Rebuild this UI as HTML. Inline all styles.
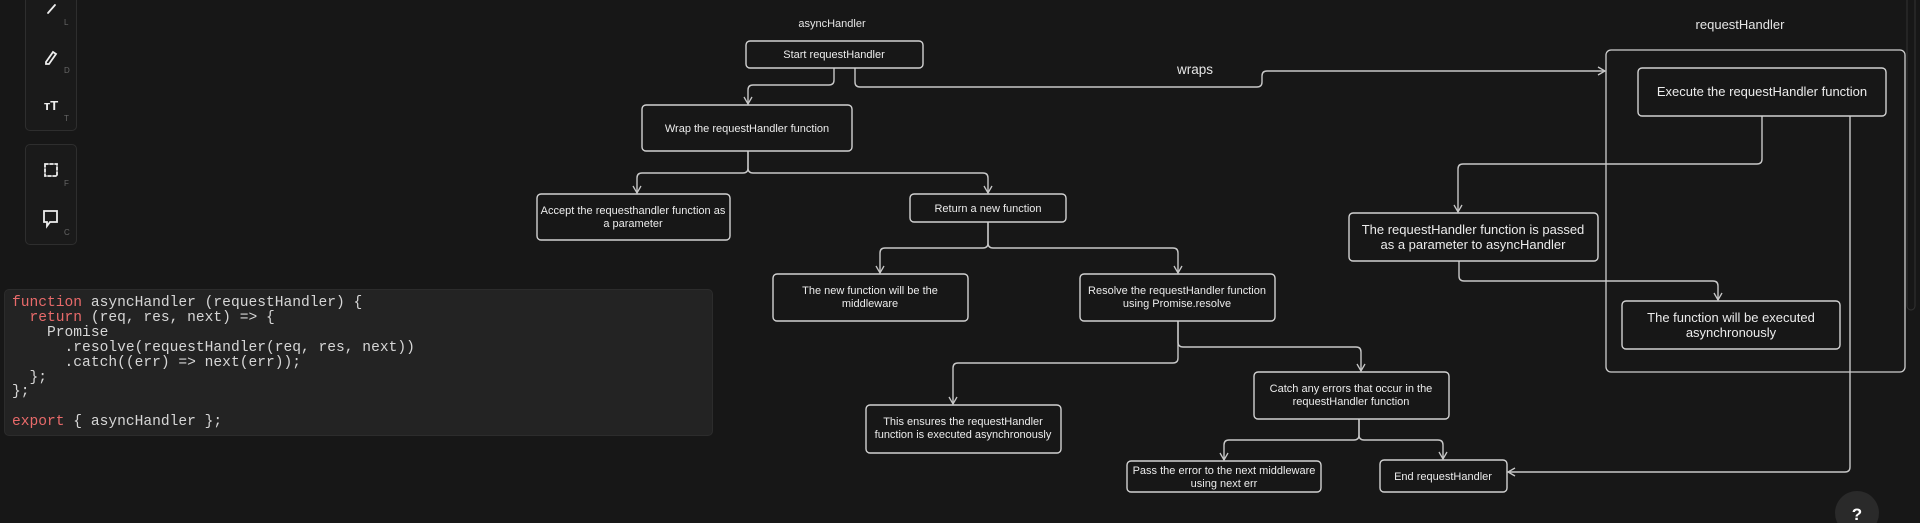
<!DOCTYPE html>
<html><head><meta charset="utf-8"><style>
html,body{margin:0;padding:0;background:#171717;width:1920px;height:523px;overflow:hidden}
svg{position:absolute;left:0;top:0}
.code{position:absolute;left:4px;top:289px;width:709px;height:147px;background:#232323;border:1px solid #2c2c2c;border-radius:5px;box-sizing:border-box}
.code pre{margin:0;position:absolute;left:7px;top:6px;font-family:"Liberation Mono",monospace;font-size:14.6px;line-height:14.9px;color:#d6d6d6}
.k{color:#e86a6a}
.tb{position:absolute;left:25px;width:52px;border:1px solid #2e2e2e;border-radius:5px;background:#1a1a1a;box-sizing:border-box}
</style></head><body>
<div class="tb" style="top:-6px;height:137px"></div>
<div class="tb" style="top:144px;height:101px"></div>
<div class="code"><pre><span class="k">function</span> asyncHandler (requestHandler) {
  <span class="k">return</span> (req, res, next) =&gt; {
    Promise
      .resolve(requestHandler(req, res, next))
      .catch((err) =&gt; next(err));
  };
};

<span class="k">export</span> { asyncHandler };</pre></div>
<svg width="1920" height="523" viewBox="0 0 1920 523" font-family="Liberation Sans, sans-serif">
<defs><marker id="a" markerWidth="10" markerHeight="10" refX="8" refY="5" orient="auto" markerUnits="userSpaceOnUse"><path d="M1,1 L8,5 L1,9" fill="none" stroke="#c8c8c8" stroke-width="1.3"/></marker></defs>
<g stroke="#eee" stroke-width="1.8" fill="none" stroke-linecap="round">
<line x1="48" y1="13" x2="55" y2="5"/>
<path d="M46,62 L53,52 L56,54 L49,64 L46,64 Z"/>
<rect x="45" y="164" width="12" height="12" stroke-dasharray="3,2"/>
<path d="M44,211 H57 V222 H50 L47,226 V222 H44 Z"/>
</g>
<text x="51" y="110" fill="#eee" font-size="13" font-weight="bold" text-anchor="middle">ᴛT</text>
<g fill="#666" font-size="8">
<text x="64" y="25">L</text><text x="64" y="73">D</text><text x="64" y="121">T</text><text x="64" y="186">F</text><text x="64" y="235">C</text>
</g>
<rect x="1907" y="-5" width="8" height="315" rx="4" fill="none" stroke="#333"/>
<circle cx="1857" cy="513" r="22" fill="#2a2a2a"/>
<text x="1857" y="520" fill="#fff" font-size="17" font-weight="bold" text-anchor="middle">?</text>
<text x="832" y="27" fill="#e6e6e6" font-size="11" text-anchor="middle">asyncHandler</text>
<text x="1740" y="29" fill="#e6e6e6" font-size="13" text-anchor="middle">requestHandler</text>
<text x="1195" y="74" fill="#e6e6e6" font-size="13.5" text-anchor="middle">wraps</text>
<rect x="1606" y="50" width="299" height="322" rx="5" fill="none" stroke="#cfcfcf" stroke-width="1.3"/>
<g fill="none" stroke="#c8c8c8" stroke-width="1.4" marker-end="url(#a)">
<path d="M834,68 V80 Q834,85 829,85 H753 Q748,85 748,90 V104"/>
<path d="M855,68 V82 Q855,87 860,87 H1257 Q1262,87 1262,82 V76 Q1262,71 1267,71 H1605"/>
<path d="M748,151 V168 Q748,173 743,173 H642 Q637,173 637,178 V193"/>
<path d="M748,151 V168 Q748,173 753,173 H983 Q988,173 988,178 V193"/>
<path d="M988,222 V243 Q988,248 983,248 H885 Q880,248 880,253 V273"/>
<path d="M988,222 V243 Q988,248 993,248 H1173 Q1178,248 1178,253 V273"/>
<path d="M1178,321 V358 Q1178,363 1173,363 H958 Q953,363 953,368 V404"/>
<path d="M1178,321 V342 Q1178,347 1183,347 H1356 Q1361,347 1361,352 V371"/>
<path d="M1359,419 V435 Q1359,440 1354,440 H1229 Q1224,440 1224,445 V460"/>
<path d="M1359,419 V435 Q1359,440 1364,440 H1438 Q1443,440 1443,445 V459"/>
<path d="M1762,116 V159 Q1762,164 1757,164 H1463 Q1458,164 1458,169 V212"/>
<path d="M1459,261 V276 Q1459,281 1464,281 H1713 Q1718,281 1718,286 V300"/>
<path d="M1850,116 V467 Q1850,472 1845,472 H1508"/>
</g>
<g fill="none" stroke="#d2d2d2" stroke-width="1.4">
<rect x="746" y="41" width="177" height="27" rx="4"/>
<rect x="642" y="105" width="210" height="46" rx="4"/>
<rect x="537" y="194" width="193" height="46" rx="4"/>
<rect x="910" y="194" width="156" height="28" rx="4"/>
<rect x="773" y="274" width="195" height="47" rx="4"/>
<rect x="1080" y="274" width="195" height="47" rx="4"/>
<rect x="866" y="405" width="195" height="48" rx="4"/>
<rect x="1254" y="372" width="195" height="47" rx="4"/>
<rect x="1127" y="461" width="194" height="31" rx="4"/>
<rect x="1380" y="460" width="127" height="32" rx="4"/>
<rect x="1638" y="68" width="248" height="48" rx="4"/>
<rect x="1349" y="213" width="249" height="48" rx="4"/>
<rect x="1622" y="301" width="218" height="48" rx="4"/>
</g>
<g fill="#ececec" font-size="11" text-anchor="middle">
<text x="834" y="58">Start requestHandler</text>
<text x="747" y="132">Wrap the requestHandler function</text>
<text x="633" y="214">Accept the requesthandler function as</text>
<text x="633" y="227">a parameter</text>
<text x="988" y="212">Return a new function</text>
<text x="870" y="294">The new function will be the</text>
<text x="870" y="307">middleware</text>
<text x="1177" y="294">Resolve the requestHandler function</text>
<text x="1177" y="307">using Promise.resolve</text>
<text x="963" y="425">This ensures the requestHandler</text>
<text x="963" y="438">function is executed asynchronously</text>
<text x="1351" y="392">Catch any errors that occur in the</text>
<text x="1351" y="405">requestHandler function</text>
<text x="1224" y="474">Pass the error to the next middleware</text>
<text x="1224" y="487">using next err</text>
<text x="1443" y="480">End requestHandler</text>
</g>
<g fill="#ececec" font-size="13" text-anchor="middle">
<text x="1762" y="96">Execute the requestHandler function</text>
<text x="1473" y="234">The requestHandler function is passed</text>
<text x="1473" y="249">as a parameter to asyncHandler</text>
<text x="1731" y="322">The function will be executed</text>
<text x="1731" y="337">asynchronously</text>
</g>
</svg>
</body></html>
